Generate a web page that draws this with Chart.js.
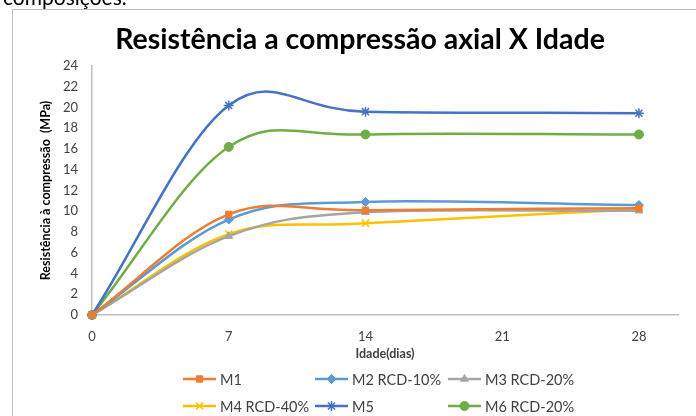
<!DOCTYPE html>
<html>
<head>
<meta charset="utf-8">
<script src="https://cdn.jsdelivr.net/npm/chart.js@4/dist/chart.umd.min.js"></script>
<style>
  html, body { margin: 0; padding: 0; background: #fff; }
  #wrap { width: 696px; height: 416px; position: relative; }
</style>
</head>
<body>
<div id="wrap"><canvas id="chart" width="696" height="416"></canvas></div>
<script>
// data
const days = [0, 7, 14, 28];
const xTicks = [0, 7, 14, 21, 28];
const seriesNames = ['M1', 'M2 RCD-10%', 'M3 RCD-20%', 'M4 RCD-40%', 'M5', 'M6 RCD-20%'];
const m1 = [0, 9.7, 10.1, 10.3];
const m2 = [0, 9.2, 10.9, 10.6];
const m3 = [0, 7.6, 9.9, 10.05];
const m4 = [0, 7.8, 8.85, 10.2];
const m5 = [0, 20.2, 19.6, 19.45];
const m6 = [0, 16.2, 17.4, 17.4];

const values = [m1, m2, m3, m4, m5, m6];
const colors = ['#ED7D31', '#5B9BD5', '#A5A5A5', '#FFC000', '#4472C4', '#70AD47'];
const markers = ['rect', 'rectRot', 'triangle', 'crossRot', 'star', 'circle'];
const radii = [4.5, 4.5, 4.5, 5, 5, 4.5];

const FONT = 'Lato, "Open Sans", sans-serif';

const datasets = values.map((vals, i) => ({
  label: seriesNames[i],
  data: days.map((d, k) => ({ x: d, y: vals[k] })),
  borderColor: colors[i],
  backgroundColor: colors[i],
  pointBorderColor: colors[i],
  pointBackgroundColor: colors[i],
  pointStyle: markers[i],
  pointRadius: radii[i],
  pointBorderWidth: (markers[i] === 'crossRot' || markers[i] === 'star') ? 1.5 : 1,
  borderWidth: 2.5,
  tension: 0.4,
  fill: false,
  clip: false
}));

// Excel-like smoothing: Catmull-Rom control points (reflected ends)
const excelSmooth = {
  id: 'excelSmooth',
  beforeDatasetsDraw(chart) {
    chart.data.datasets.forEach((ds, i) => {
      const meta = chart.getDatasetMeta(i);
      const line = meta.dataset;
      if (!line) return;
      line.updateControlPoints(chart.chartArea, 'x');
      const pts = meta.data;
      const n = pts.length;
      for (let k = 0; k < n; k++) {
        const p = pts[k];
        const prev = k > 0 ? pts[k - 1] : { x: 2 * p.x - pts[k + 1].x, y: 2 * p.y - pts[k + 1].y };
        const next = k < n - 1 ? pts[k + 1] : { x: 2 * p.x - pts[k - 1].x, y: 2 * p.y - pts[k - 1].y };
        const tx = (next.x - prev.x) / 6, ty = (next.y - prev.y) / 6;
        p.cp1x = p.x - tx; p.cp1y = p.y - ty;
        p.cp2x = p.x + tx; p.cp2y = p.y + ty;
      }
      line._path = undefined;
    });
  }
};

// frame, clipped caption from the page above, title and custom legend
const decor = {
  id: 'decor',
  beforeDraw(chart) {
    const ctx = chart.ctx;
    ctx.save();
    ctx.fillStyle = '#fff';
    ctx.fillRect(0, 0, chart.width, chart.height);
    ctx.fillStyle = '#000';
    ctx.font = '21px ' + FONT;
    ctx.textBaseline = 'alphabetic';
    ctx.fillText('composições.', 3, 5);
    ctx.strokeStyle = '#bfbfbf';
    ctx.lineWidth = 1;
    ctx.beginPath();
    ctx.moveTo(12.5, 416);
    ctx.lineTo(12.5, 9.5);
    ctx.lineTo(696, 9.5);
    ctx.stroke();
    ctx.fillStyle = '#000';
    ctx.font = 'bold 28.5px ' + FONT;
    ctx.textAlign = 'center';
    ctx.textBaseline = 'middle';
    ctx.fillText('Resistência a compressão axial X Idade', 360, 40);
    ctx.restore();
  },
  afterDraw(chart) {
    const ctx = chart.ctx;
    const colX = [183, 315, 448];
    const rowY = [379, 406];
    ctx.save();
    chart.data.datasets.forEach((ds, i) => {
      const x = colX[i % 3];
      const y = rowY[Math.floor(i / 3)];
      ctx.strokeStyle = ds.borderColor;
      ctx.lineWidth = 2.5;
      ctx.beginPath();
      ctx.moveTo(x, y);
      ctx.lineTo(x + 33, y);
      ctx.stroke();
      ctx.fillStyle = ds.pointBackgroundColor;
      ctx.strokeStyle = ds.pointBorderColor;
      ctx.lineWidth = ds.pointBorderWidth;
      Chart.helpers.drawPoint(ctx, {
        pointStyle: ds.pointStyle, radius: ds.pointRadius, rotation: 0, borderWidth: ds.pointBorderWidth
      }, x + 16.5, y);
      ctx.fillStyle = '#404040';
      ctx.font = '14.5px ' + FONT;
      ctx.textAlign = 'left';
      ctx.textBaseline = 'middle';
      ctx.fillText(ds.label, x + 37, y + 1);
    });
    ctx.restore();
  }
};

new Chart(document.getElementById('chart'), {
  type: 'line',
  data: { datasets },
  plugins: [decor, excelSmooth],
  options: {
    responsive: false,
    animation: false,
    layout: { padding: { left: 38, right: 18, top: 66, bottom: 55 } },
    plugins: { legend: { display: false }, title: { display: false }, tooltip: { enabled: false } },
    scales: {
      x: {
        type: 'linear',
        min: 0,
        max: 30,
        afterBuildTicks: s => { s.ticks = xTicks.map(v => ({ value: v })); },
        afterFit: s => { s.height = 46; },
        grid: { display: false, drawTicks: false },
        border: { color: '#bfbfbf', width: 1.5 },
        ticks: { color: '#404040', font: { family: FONT, size: 13 }, padding: 14, maxRotation: 0 },
        title: { display: true, text: 'Idade(dias)', color: '#404040', font: { family: FONT, size: 12.5, weight: 'bold' }, padding: { top: 0, bottom: 0 } }
      },
      y: {
        min: 0,
        max: 24,
        afterFit: s => { s.width = 54; },
        grid: { display: false, drawTicks: false },
        border: { color: '#bfbfbf', width: 1.5 },
        ticks: { stepSize: 2, color: '#404040', font: { family: FONT, size: 13 }, padding: 14 },
        title: { display: true, text: 'Resistência à compressão  (MPa)', color: '#000', font: { family: FONT, size: 12.5, weight: 'bold' }, padding: 0 }
      }
    }
  }
});
</script>
</body>
</html>
